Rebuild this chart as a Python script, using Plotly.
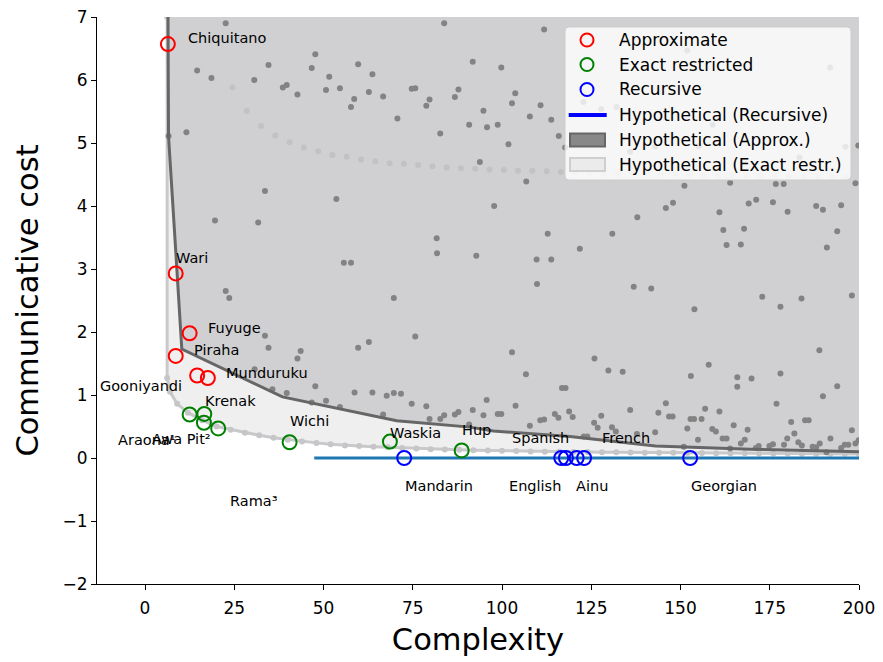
import plotly.graph_objects as go

# ---- observed languages ----
approx_x = [6.4, 8.6, 12.5, 8.6, 14.6, 17.6]
approx_y = [6.57, 2.93, 1.98, 1.62, 1.31, 1.27]

exact_x = [12.5, 16.6, 16.5, 20.5, 40.5, 68.6, 88.7]
exact_y = [0.69, 0.70, 0.56, 0.47, 0.25, 0.26, 0.12]

recursive_x = [72.6, 116.6, 117.9, 120.9, 123.0, 152.7]
recursive_y = [0, 0, 0, 0, 0, 0]

# ---- language name labels ----
label_text = ["Chiquitano", "Wari", "Fuyuge", "Piraha", "Munduruku", "Gooniyandi",
              "Krenak", "Araona¹", "Awa Pit²", "Wichi", "Rama³", "Waskia", "Hup",
              "Spanish", "French", "Mandarin", "English", "Ainu", "Georgian"]
label_x = [12.0, 8.7, 17.6, 13.7, 22.7, -12.6, 16.8, -7.6, 2.0, 40.6, 23.8, 68.6,
           88.8, 102.8, 128.0, 72.8, 102.0, 120.7, 152.9]
label_y = [6.67, 3.17, 2.06, 1.71, 1.35, 1.14, 0.90, 0.29, 0.30, 0.59, -0.68, 0.40,
           0.44, 0.32, 0.32, -0.44, -0.44, -0.44, -0.44]

# ---- legend entries ----
legend_labels = ["Approximate", "Exact restricted", "Recursive", "Hypothetical (Recursive)",
                 "Hypothetical (Approx.)", "Hypothetical (Exact restr.)"]

# ---- hypothetical recursive systems (cost 0) ----
hyp_rec_x = [47.4, 200]
hyp_rec_y = [0, 0]

# ---- frontier of hypothetical approximate systems ----
approx_front_x = [6.44, 6.58, 8.68, 10.3, 38.5, 53.7, 70.5, 91.0, 97.6, 119.0, 143.0, 169.5, 200.0]
approx_front_y = [7.0, 5.11, 3.22, 1.73, 0.97, 0.79, 0.59, 0.49, 0.43, 0.34, 0.19, 0.14, 0.10]

# ---- frontier of hypothetical exact-restricted systems ----
exact_front_x = [6.2, 6.2, 7, 9, 12, 16, 20, 24, 28, 32, 36, 40, 44, 48, 52, 56, 60, 64, 68,
                 72, 76, 80, 84, 88, 92, 96, 100, 104, 108, 112, 116, 120, 124, 128, 132,
                 136, 140, 144, 148, 152, 156, 160, 164, 168, 172, 176, 180, 184, 188, 192,
                 196, 200]
exact_front_y = [7.0, 1.27, 1.05, 0.86, 0.72, 0.60, 0.50, 0.45, 0.40, 0.36, 0.32, 0.29, 0.26,
                 0.24, 0.22, 0.20, 0.19, 0.18, 0.17, 0.16, 0.15, 0.14, 0.135, 0.13, 0.125,
                 0.12, 0.115, 0.11, 0.105, 0.10, 0.10, 0.095, 0.095, 0.09, 0.09, 0.088,
                 0.085, 0.083, 0.082, 0.08, 0.078, 0.077, 0.076, 0.074, 0.073, 0.072, 0.07,
                 0.069, 0.068, 0.067, 0.066, 0.065]

# ---- faint series of hypothetical systems in the upper region ----
faint_x = [24.5, 28.5, 32.5, 36.5, 40.5, 44.5, 48.5, 52.5, 56.5, 60.5, 64.5, 68.5, 72.5,
           76.5, 80.5, 84.5, 88.5, 92.5, 96.5, 100.5, 104.5, 108.5, 112.5, 116.5, 120.5,
           124.5, 128.5, 132.5, 136.5, 140.5, 144.5, 148.5, 152.5, 156.5, 160.5, 164.5,
           168.5, 172.5, 176.5, 180.5, 184.5, 188.5, 192.5, 196.5]
faint_y = [5.88, 5.51, 5.27, 5.12, 5.01, 4.93, 4.87, 4.81, 4.78, 4.74, 4.71, 4.68, 4.67,
           4.65, 4.63, 4.61, 4.60, 4.59, 4.58, 4.57, 4.56, 4.56, 4.55, 4.54, 4.53, 4.53,
           4.52, 4.52, 4.51, 4.51, 4.50, 4.50, 4.50, 4.49, 4.49, 4.49, 4.48, 4.48, 4.48,
           4.47, 4.47, 4.47, 4.47, 4.46]

# ---- hypothetical approximate systems ----
hyp_x = [22.6, 14.6, 18.6, 34.6, 30.6, 38.6, 39.7, 42.7, 46.7, 47.7, 51.6, 50.7, 54.6, 58.6,
         57.7, 59.7, 63.7, 62.7, 66.7, 11.6, 33.6, 53.6, 19.6, 31.7, 6.6, 83.8, 111.8, 91.8,
         99.8, 74.7, 75.7, 79.7, 78.8, 87.8, 86.8, 70.7, 82.7, 94.8, 90.8, 95.8, 98.8, 103.7,
         102.8, 110.8, 107.8, 113.8, 115.9, 101.8, 93.8, 106.8, 97.8, 81.7, 81.8, 92.8, 112.8,
         121.8, 130.9, 137.9, 145.9, 147.9, 109.7, 113.8, 151.9, 191.9, 132.1, 159.0, 196.2,
         183.3, 155.1, 199.8, 122.8, 127.8, 117.7, 135.9, 142.9, 151.1, 163.9, 176.7, 178.9,
         199.0, 160.9, 169.1, 171.2, 175.9, 180.0, 188.0, 189.9, 195.0, 162.0, 167.8, 193.9,
         162.9, 166.9, 191.0, 136.9, 141.8, 153.9, 172.9, 178.0, 183.9, 198.0, 188.9, 109.8,
         69.7, 75.7, 102.8, 106.7, 125.9, 129.8, 133.8, 157.9, 152.9, 165.9, 165.9, 169.9,
         178.0, 193.9, 189.9, 176.9, 55.7, 57.7, 22.6, 23.6, 33.6, 34.6, 43.6, 42.7, 59.7,
         62.7, 30.7, 35.7, 39.7, 47.7, 50.7, 54.6, 58.7, 63.7, 46.7, 67.7, 69.7, 71.7, 74.7,
         78.8, 66.7, 79.7, 82.7, 83.8, 86.8, 87.8, 90.8, 91.8, 94.8, 95.7, 103.8, 98.8, 99.8,
         116.8, 117.8, 107.8, 110.7, 111.8, 114.8, 115.8, 118.8, 119.8, 125.8, 127.8, 126.8,
         130.8, 131.9, 135.9, 143.8, 137.8, 142.9, 122.9, 123.9, 145.9, 146.8, 147.8, 151.9,
         152.8, 153.8, 155.9, 156.9, 154.9, 158.9, 159.9, 160.9, 161.8, 162.9, 164.9, 166.9,
         168.0, 168.8, 171.9, 174.9, 175.9, 179.0, 179.9, 181.0, 181.9, 183.0, 184.0, 184.9,
         185.9, 187.0, 188.0, 189.0, 192.0, 195.0, 196.0, 197.0, 198.0, 199.0, 199.9, 171.1,
         163.9, 150.9, 190.9]
hyp_y = [6.90, 6.15, 6.03, 6.24, 6.00, 5.88, 5.92, 5.77, 6.19, 6.41, 6.05, 5.84, 5.87, 5.70,
         5.57, 6.25, 6.09, 5.81, 5.74, 5.17, 4.24, 4.11, 3.77, 3.74, 5.11, 6.90, 6.80, 6.29,
         6.20, 5.86, 5.87, 5.69, 5.59, 5.85, 5.73, 5.39, 5.15, 5.51, 5.29, 5.25, 5.29, 5.79,
         5.63, 5.60, 5.42, 5.37, 5.11, 4.98, 4.70, 4.39, 4.00, 3.49, 3.25, 3.21, 3.56, 3.32,
         3.56, 3.82, 3.97, 4.05, 3.15, 3.15, 6.47, 6.20, 5.57, 5.29, 4.94, 4.77, 4.95, 4.96,
         5.65, 5.54, 4.93, 4.86, 4.94, 4.32, 4.37, 4.35, 4.35, 4.36, 3.90, 4.04, 4.10, 4.06,
         3.91, 4.00, 3.94, 4.01, 3.62, 3.64, 3.60, 3.38, 3.39, 3.34, 2.72, 2.69, 2.36, 2.56,
         2.40, 2.53, 2.58, 1.71, 2.76, 2.54, 1.93, 1.68, 1.33, 1.58, 1.39, 1.37, 1.48, 1.30,
         1.28, 1.13, 1.26, 1.34, 1.14, 0.98, 0.86, 3.10, 3.10, 2.65, 2.54, 1.94, 1.75, 1.70,
         1.58, 1.75, 1.84, 1.41, 1.09, 1.03, 1.14, 0.91, 0.81, 1.04, 1.04, 0.88, 0.99, 1.03,
         1.02, 0.86, 0.82, 0.69, 0.62, 0.62, 0.68, 0.69, 0.73, 0.53, 0.76, 0.68, 0.92, 0.83,
         0.70, 0.70, 1.11, 1.11, 0.51, 0.60, 0.61, 0.70, 0.64, 0.74, 0.65, 0.56, 0.67, 0.48,
         0.49, 0.42, 0.76, 0.72, 0.38, 0.41, 0.34, 0.34, 0.87, 0.66, 0.66, 0.47, 0.62, 0.62,
         0.62, 0.78, 0.29, 0.46, 0.42, 0.74, 0.31, 0.31, 0.52, 0.23, 0.29, 0.45, 0.19, 0.19,
         0.22, 0.21, 0.31, 0.57, 0.39, 0.25, 0.20, 0.60, 0.60, 0.18, 0.17, 0.23, 0.31, 0.16,
         0.21, 0.21, 0.44, 0.23, 0.28, 0.16, 0.15, 0.18, 0.09]

X_RANGE = [-13.45, 200]
Y_RANGE = [-2, 7]
FONT = "DejaVu Sans"
RED, GREEN, BLUE = "#ff0000", "#008000", "#0000ff"

# figure geometry (pixels) used to place the hand-drawn legend
W, H = 883, 662
M_L, M_R, M_T, M_B = 97, 24, 17, 78
PLOT_W = W - M_L - M_R
PLOT_H = H - M_T - M_B


def px(xp):
    return (xp - M_L) / PLOT_W


def py(yp):
    return (H - M_B - yp) / PLOT_H


fig = go.Figure()

# region reachable by exact-restricted systems
fig.add_trace(go.Scatter(
    x=exact_front_x + [X_RANGE[1]], y=exact_front_y + [Y_RANGE[1]],
    fill="toself", fillcolor="#efefef", mode="none", showlegend=False, hoverinfo="skip"))

# region reachable by approximate systems
fig.add_trace(go.Scatter(
    x=approx_front_x + [X_RANGE[1]], y=approx_front_y + [Y_RANGE[1]],
    fill="toself", fillcolor="#d0d0d3", mode="none", showlegend=False, hoverinfo="skip"))

# exact-restricted frontier with its points
fig.add_trace(go.Scatter(
    x=exact_front_x, y=exact_front_y, mode="lines+markers",
    line=dict(color="#c9c9cc", width=3),
    marker=dict(color="#c6c6c8", size=6), showlegend=False, hoverinfo="skip"))

# faint upper series
fig.add_trace(go.Scatter(
    x=faint_x, y=faint_y, mode="markers",
    marker=dict(color="#c2c2c4", size=6), showlegend=False, hoverinfo="skip"))

# hypothetical approximate systems
fig.add_trace(go.Scatter(
    x=hyp_x, y=hyp_y, mode="markers",
    marker=dict(color="#838383", size=6), showlegend=False, hoverinfo="skip"))

# approximate frontier line
fig.add_trace(go.Scatter(
    x=approx_front_x, y=approx_front_y, mode="lines",
    line=dict(color="#666666", width=3), showlegend=False, hoverinfo="skip"))

# hypothetical recursive line
fig.add_trace(go.Scatter(
    x=hyp_rec_x, y=hyp_rec_y, mode="lines",
    line=dict(color="#1f77b4", width=3), showlegend=False, hoverinfo="skip"))


# observed languages
def circles(xs, ys, color, name):
    return go.Scatter(
        x=xs, y=ys, mode="markers", name=name, showlegend=False,
        marker=dict(symbol="circle-open", size=14, color=color, line=dict(width=2, color=color)))


fig.add_trace(circles(approx_x, approx_y, RED, legend_labels[0]))
fig.add_trace(circles(exact_x, exact_y, GREEN, legend_labels[1]))
fig.add_trace(circles(recursive_x, recursive_y, BLUE, legend_labels[2]))

for t, lx, ly in zip(label_text, label_x, label_y):
    fig.add_annotation(x=lx, y=ly, text=t, showarrow=False, xanchor="left", yanchor="middle",
                       xshift=-2, font=dict(family=FONT, size=14.5, color="black"))

# ---- legend box ----
bx0, bx1, by0, by1, r = 565, 851, 27, 180, 4
rx, ry = r / PLOT_W, r / PLOT_H
X0, X1, Y0, Y1 = px(bx0), px(bx1), py(by1), py(by0)
box_path = (f"M {X0+rx},{Y1} L {X1-rx},{Y1} Q {X1},{Y1} {X1},{Y1-ry} "
            f"L {X1},{Y0+ry} Q {X1},{Y0} {X1-rx},{Y0} L {X0+rx},{Y0} "
            f"Q {X0},{Y0} {X0},{Y0+ry} L {X0},{Y1-ry} Q {X0},{Y1} {X0+rx},{Y1} Z")
shapes = [dict(type="path", xref="paper", yref="paper", path=box_path,
               fillcolor="rgba(255,255,255,0.8)", line=dict(color="#cccccc", width=1),
               layer="above")]

row_y = [40, 64.5, 89.5, 115, 140, 164.5]
sym_x = 587
for color, yy in zip([RED, GREEN, BLUE], row_y[:3]):
    shapes.append(dict(type="circle", xref="paper", yref="paper",
                       xsizemode="pixel", ysizemode="pixel",
                       xanchor=px(sym_x), yanchor=py(yy), x0=-6.5, x1=6.5, y0=-6.5, y1=6.5,
                       line=dict(color=color, width=2), layer="above"))
shapes.append(dict(type="line", xref="paper", yref="paper",
                   x0=px(568.7), x1=px(606.7), y0=py(row_y[3]), y1=py(row_y[3]),
                   line=dict(color=BLUE, width=4), layer="above"))
shapes.append(dict(type="rect", xref="paper", yref="paper",
                   x0=px(570), x1=px(605), y0=py(row_y[4] + 6.5), y1=py(row_y[4] - 6.5),
                   fillcolor="#888888", line=dict(color="#666666", width=2), layer="above"))
shapes.append(dict(type="rect", xref="paper", yref="paper",
                   x0=px(570), x1=px(605), y0=py(row_y[5] + 6.5), y1=py(row_y[5] - 6.5),
                   fillcolor="#ebebeb", line=dict(color="#cfcfd2", width=2), layer="above"))

for lab, yy in zip(legend_labels, row_y):
    fig.add_annotation(xref="paper", yref="paper", x=px(619), y=py(yy), text=lab,
                       showarrow=False, xanchor="left", yanchor="middle", xshift=-2,
                       font=dict(family=FONT, size=17, color="black"))

axis_common = dict(showgrid=False, zeroline=False, showline=True, linecolor="black",
                   linewidth=1, ticks="outside", ticklen=5, tickwidth=1, tickcolor="black",
                   tickfont=dict(family=FONT, size=17, color="black"), mirror=False,
                   automargin=False)

fig.update_layout(
    width=W, height=H,
    margin=dict(l=M_L, r=M_R, t=M_T, b=M_B),
    paper_bgcolor="white", plot_bgcolor="white",
    font=dict(family=FONT, color="black"),
    showlegend=False,
    shapes=shapes,
    xaxis=dict(range=X_RANGE, tickvals=[0, 25, 50, 75, 100, 125, 150, 175, 200],
               ticklabelstandoff=4,
               title=dict(text="Complexity", font=dict(family=FONT, size=30.5), standoff=11),
               **axis_common),
    yaxis=dict(range=Y_RANGE, tickvals=[-2, -1, 0, 1, 2, 3, 4, 5, 6, 7],
               title=dict(text="Communicative cost", font=dict(family=FONT, size=30.5), standoff=14),
               **axis_common),
)

fig.write_html("out.html")
